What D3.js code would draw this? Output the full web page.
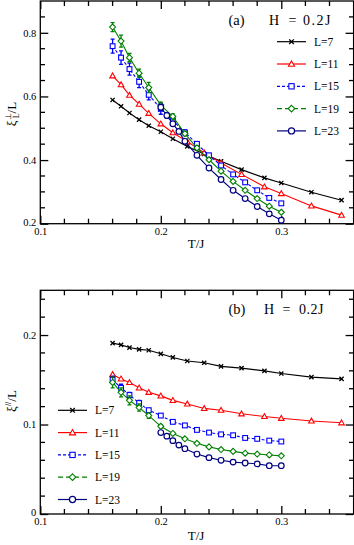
<!DOCTYPE html>
<html><head><meta charset="utf-8">
<script src="https://cdn.jsdelivr.net/npm/d3@7"></script>
<style>
html,body{margin:0;padding:0;background:#fff;}
svg{display:block;}
text{font-family:"Liberation Serif","Times New Roman",serif;fill:#000;}
</style></head>
<body>
<svg id="c" width="354" height="545"></svg>
<script>
// ---- data ----
const T_LONG = [0.16,0.167,0.174,0.182,0.19,0.2,0.21,0.222,0.236,0.25,0.267,0.286,0.3,0.325,0.35];
const T_MID  = [0.16,0.167,0.174,0.182,0.19,0.2,0.21,0.22,0.23,0.24,0.25,0.26,0.27,0.28,0.29,0.3];
const T_L23  = [0.2,0.205,0.21,0.215,0.22,0.23,0.24,0.25,0.26,0.27,0.28,0.29,0.3];

const a_L7  = [0.589,0.569,0.548,0.527,0.508,0.489,0.467,0.443,0.419,0.396,0.370,0.344,0.328,0.299,0.274];
const a_L11 = [0.665,0.637,0.604,0.576,0.547,0.514,0.486,0.458,0.423,0.391,0.355,0.316,0.295,0.256,0.227];
const a_L15 = [0.758,0.722,0.686,0.646,0.605,0.561,0.524,0.487,0.451,0.415,0.383,0.355,0.330,0.305,0.281,0.264];
const a_L19 = [0.818,0.774,0.722,0.673,0.628,0.573,0.537,0.483,0.438,0.401,0.365,0.333,0.305,0.279,0.255,0.236];
const a_L23 = [0.566,0.540,0.514,0.490,0.459,0.415,0.375,0.339,0.305,0.279,0.254,0.231,0.211];
const a_L15_err = [0.022,0.021,0.019,0.018,0.016,0.017,0.010,0.008,0.006,0.005,0.004,0,0,0,0,0];
const a_L19_err = [0.014,0.019,0.013,0.013,0.016,0.009,0.008,0.006,0.005,0.004,0,0,0,0,0,0];
const a_L23_err = [0.010,0.009,0.008,0.006,0.005,0,0,0,0,0,0,0,0];

const b_L7  = [0.191,0.189,0.186,0.184,0.183,0.179,0.175,0.171,0.169,0.165,0.163,0.160,0.157,0.153,0.151];
const b_L11 = [0.156,0.151,0.147,0.141,0.136,0.132,0.127,0.123,0.118,0.116,0.112,0.109,0.107,0.104,0.102];
const b_L15 = [0.150,0.141,0.133,0.124,0.116,0.110,0.103,0.099,0.094,0.091,0.089,0.088,0.085,0.084,0.082,0.081];
const b_L19 = [0.147,0.136,0.127,0.119,0.110,0.098,0.090,0.084,0.079,0.075,0.072,0.070,0.068,0.067,0.066,0.065];
const b_L23 = [0.091,0.087,0.082,0.077,0.073,0.067,0.063,0.060,0.058,0.057,0.056,0.054,0.054];
const b_L15_err = [0.004,0.004,0.003,0.003,0.002,0.002,0,0,0,0,0,0,0,0,0,0];
const b_L19_err = [0.006,0.005,0.005,0.004,0.003,0.002,0,0,0,0,0,0,0,0,0,0];

const labels = ["L=7","L=11","L=15","L=19","L=23"];
const colors = ["#000000","#ff0000","#0000ff","#008000","#000080"];
const shapes = ["x","tri","sq","dia","circ"];
const legendDashes = [null,null,"3,2","5,3",null];
const lineDashes = [null,null,"3,2",null,null];

const xTicksMajor = [0.1,0.2,0.3];

// ---- drawing ----
const svg = d3.select("#c");

function marker(g, shape, color, x, y, big){
  const k = big ? 1.1 : 1;
  if(shape==="x"){
    const s=2.1*k;
    g.append("path").attr("d",`M${x-s},${y-s}L${x+s},${y+s}M${x-s},${y+s}L${x+s},${y-s}`)
      .attr("stroke",color).attr("stroke-width",1.3).attr("fill","none");
  } else if(shape==="tri"){
    const s=2.8*k;
    g.append("path").attr("d",`M${x},${y-s}L${x+s},${y+s*0.75}L${x-s},${y+s*0.75}Z`)
      .attr("stroke",color).attr("stroke-width",1.1).attr("fill","#fff");
  } else if(shape==="sq"){
    const s=2.4*k;
    g.append("rect").attr("x",x-s).attr("y",y-s).attr("width",2*s).attr("height",2*s)
      .attr("stroke",color).attr("stroke-width",1.1).attr("fill","#fff");
  } else if(shape==="dia"){
    const s=3*k;
    g.append("path").attr("d",`M${x},${y-s}L${x+s},${y}L${x},${y+s}L${x-s},${y}Z`)
      .attr("stroke",color).attr("stroke-width",1.1).attr("fill","#fff");
  } else {
    g.append("circle").attr("cx",x).attr("cy",y).attr("r",2.8*k)
      .attr("stroke",color).attr("stroke-width",1.2).attr("fill","#fff");
  }
}

function panel(cfg){
  const x = d3.scaleLinear().domain([0.1,0.36]).range([40.3,353.6]);
  const y = d3.scaleLinear().domain(cfg.yDomain).range([cfg.bottom,cfg.top]);
  const g = svg.append("g");

  // minor ticks
  const xMinor = d3.range(0.12,0.359,0.02).filter(v=>xTicksMajor.every(m=>Math.abs(m-v)>1e-6));
  const yMinor = cfg.yMinor.filter(v=>cfg.yMajor.every(m=>Math.abs(m-v)>1e-6));
  const tk = g.append("g").attr("stroke","#000").attr("stroke-width",1.3);
  xMinor.forEach(v=>{
    tk.append("line").attr("x1",x(v)).attr("x2",x(v)).attr("y1",cfg.bottom).attr("y2",cfg.bottom-5);
    tk.append("line").attr("x1",x(v)).attr("x2",x(v)).attr("y1",cfg.top).attr("y2",cfg.top+5);
  });
  yMinor.forEach(v=>{
    tk.append("line").attr("y1",y(v)).attr("y2",y(v)).attr("x1",40.3).attr("x2",45);
    tk.append("line").attr("y1",y(v)).attr("y2",y(v)).attr("x1",353.6).attr("x2",349);
  });

  // major axes
  const fmt = d3.format("");
  const ax = g.append("g").attr("transform",`translate(0,${cfg.bottom})`)
    .call(d3.axisBottom(x).tickValues(xTicksMajor).tickSize(-8).tickPadding(4).tickFormat(v=>fmt(v)));
  const axTop = g.append("g").attr("transform",`translate(0,${cfg.top})`)
    .call(d3.axisTop(x).tickValues(xTicksMajor).tickSize(-8).tickFormat(""));
  const ay = g.append("g").attr("transform",`translate(40.3,0)`)
    .call(d3.axisLeft(y).tickValues(cfg.yMajor).tickSize(-8).tickPadding(4).tickFormat(v=>fmt(v)));
  const ayR = g.append("g").attr("transform",`translate(353.6,0)`)
    .call(d3.axisRight(y).tickValues(cfg.yMajor).tickSize(-8).tickFormat(""));
  [ax,axTop,ay,ayR].forEach(a=>{
    a.select(".domain").remove();
    a.selectAll(".tick line").attr("stroke-width",1.3);
    a.selectAll("text").style("font-family","Liberation Serif, serif").style("font-size","10.5px").attr("fill","#000");
  });
  ay.selectAll(".tick text").filter(d=>d===cfg.yDomain[0]).attr("dy","0.15em");
  g.append("rect").attr("x",40.3).attr("y",cfg.top).attr("width",353.6-40.3).attr("height",cfg.bottom-cfg.top)
    .attr("fill","none").attr("stroke","#000").attr("stroke-width",1.3);

  // series
  cfg.series.forEach((s,i)=>{
    const sg = g.append("g");
    const pts = s.t.map((t,j)=>[t,s.v[j],s.e?s.e[j]:0]);
    sg.append("path").datum(pts)
      .attr("d",d3.line().x(d=>x(d[0])).y(d=>y(d[1])))
      .attr("fill","none").attr("stroke",colors[i]).attr("stroke-width",1.1)
      .attr("stroke-dasharray",lineDashes[i]);
    pts.forEach(d=>{
      if(d[2]>0){
        const xx=x(d[0]), y1=y(d[1]-d[2]), y2=y(d[1]+d[2]);
        sg.append("path").attr("d",`M${xx},${y1}L${xx},${y2}M${xx-2},${y1}L${xx+2},${y1}M${xx-2},${y2}L${xx+2},${y2}`)
          .attr("stroke",colors[i]).attr("stroke-width",1.3).attr("fill","none");
      }
    });
    pts.forEach(d=>marker(sg,shapes[i],colors[i],x(d[0]),y(d[1]),false));
  });

  // legend
  const lg = g.append("g");
  labels.forEach((l,i)=>{
    const yy = cfg.legY + i*22.3;
    lg.append("line").attr("x1",cfg.legX).attr("x2",cfg.legX+29).attr("y1",yy).attr("y2",yy)
      .attr("stroke",colors[i]).attr("stroke-width",1.2).attr("stroke-dasharray",legendDashes[i]);
    marker(lg,shapes[i],colors[i],cfg.legX+14.5,yy,true);
    lg.append("text").attr("x",cfg.legX+37).attr("y",yy+4).style("font-size","11.5px").text(l);
  });

  // titles
  const ty = cfg.top+cfg.titleDy;
  g.append("text").attr("x",228.5).attr("y",ty).style("font-size","14.5px").text(cfg.tag);
  g.append("text").attr("x",cfg.hx[0]).attr("y",ty).style("font-size","14px").text("H");
  g.append("text").attr("x",cfg.hx[1]).attr("y",ty).style("font-size","14px").text("=");
  g.append("text").attr("x",cfg.hx[2]).attr("y",ty).style("font-size","14px")
    .style("letter-spacing",cfg.ls).text("0.2J");
  g.append("text").attr("x",196).attr("y",cfg.bottom+cfg.xlabDy).attr("text-anchor","middle")
    .style("font-size","13px").text("T/J");
  return {x,y,g};
}

panel({
  top:1, bottom:223.7, yDomain:[0.2,0.9], yMajor:[0.2,0.4,0.6,0.8],
  yMinor:d3.range(0.25,0.9,0.05),
  series:[{t:T_LONG,v:a_L7},{t:T_LONG,v:a_L11},{t:T_MID,v:a_L15,e:a_L15_err},{t:T_MID,v:a_L19,e:a_L19_err},{t:T_L23,v:a_L23,e:a_L23_err}],
  legX:277, legY:41.7, tag:"(a)", hx:[269,288.5,303], ls:"1.5px", titleDy:23.5, xlabDy:24.5
});
panel({
  top:290.3, bottom:514, yDomain:[0,0.25], yMajor:[0,0.1,0.2],
  yMinor:d3.range(0.02,0.25,0.02),
  series:[{t:T_LONG,v:b_L7},{t:T_LONG,v:b_L11},{t:T_MID,v:b_L15,e:b_L15_err},{t:T_MID,v:b_L19,e:b_L19_err},{t:T_L23,v:b_L23}],
  legX:58, legY:410.3, tag:"(b)", hx:[264,282.5,299], ls:"0.5px", titleDy:23.5, xlabDy:26
});

// y-axis labels
const ya = svg.append("text").attr("transform","translate(16,114) rotate(-90)").attr("text-anchor","middle").style("font-size","13px");
ya.append("tspan").text("ξ");
ya.append("tspan").attr("dy",-5).style("font-size","8px").text("⊥");
ya.append("tspan").attr("dx",-5).attr("dy",8).style("font-size","8px").text("L");
ya.append("tspan").attr("dy",-3).text("/L");

const yb = svg.append("text").attr("transform","translate(16,401) rotate(-90)").attr("text-anchor","middle").style("font-size","13px");
yb.append("tspan").text("ξ");
yb.append("tspan").attr("dy",-5).style("font-size","8px").text("//");
yb.append("tspan").attr("dy",5).text("/L");
</script>
</body></html>
